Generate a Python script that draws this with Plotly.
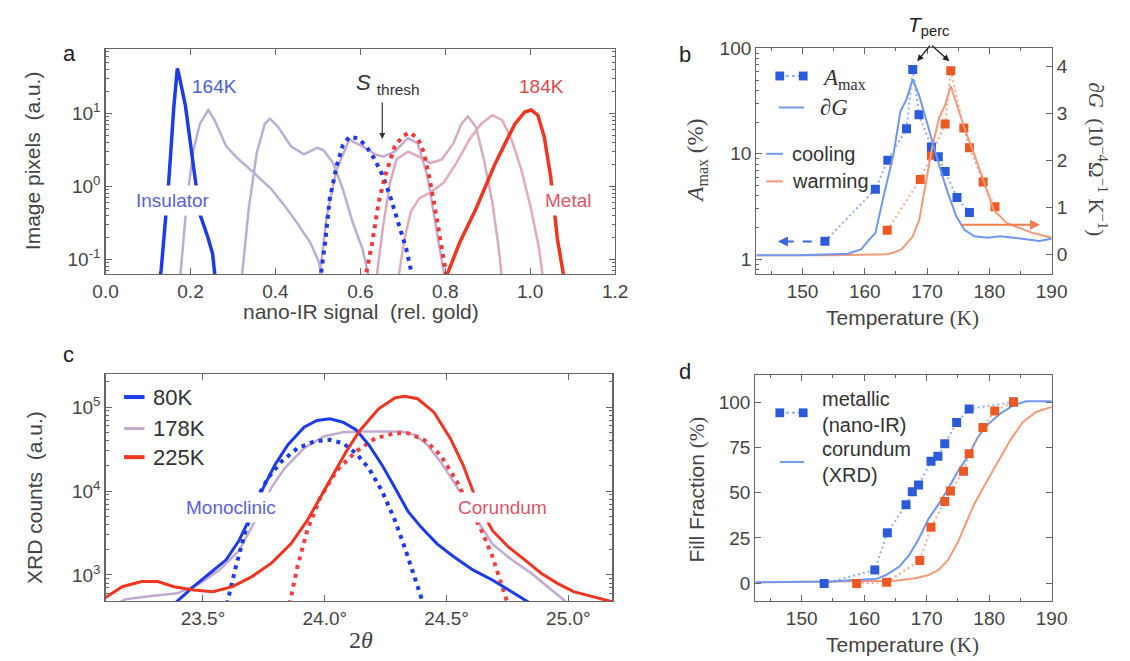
import plotly.graph_objects as go

W, H = 1130, 661
SANS = "Liberation Sans"
SERIF = "Liberation Serif"

# ---------------- Panel a: nano-IR histograms ----------------
a_sig_164K = [0.127, 0.131, 0.149, 0.161, 0.169, 0.174, 0.188, 0.211, 0.222, 0.241, 0.252, 0.259]
a_pix_164K = [0.05, 0.072, 1.2, 12.9, 41.7, 31.6, 12.9, 1.2, 0.42, 0.2, 0.12, 0.05]

a_sig_L1 = [0.175, 0.192, 0.207, 0.222, 0.242, 0.257, 0.284, 0.314, 0.345, 0.391, 0.421, 0.452, 0.482, 0.502, 0.512]
a_pix_L1 = [0.05, 0.68, 3.16, 7.2, 11.2, 8.1, 3.55, 2.34, 1.62, 0.91, 0.55, 0.31, 0.17, 0.093, 0.05]

a_sig_L2 = [0.320, 0.337, 0.356, 0.375, 0.387, 0.406, 0.437, 0.467, 0.498, 0.513, 0.536, 0.559, 0.582, 0.605, 0.622]
a_pix_L2 = [0.05, 0.49, 2.88, 7.2, 8.5, 6.6, 3.55, 2.75, 3.39, 3.16, 2.09, 0.91, 0.32, 0.14, 0.05]

a_sig_M = [0.503, 0.521, 0.544, 0.574, 0.605, 0.635, 0.654, 0.681, 0.712, 0.735, 0.758, 0.780, 0.800]
a_pix_M = [0.05, 0.4, 1.7, 4.4, 3.55, 2.75, 2.57, 3.0, 4.6, 3.9, 1.38, 0.26, 0.05]

a_sig_P1 = [0.637, 0.654, 0.670, 0.685, 0.712, 0.738, 0.765, 0.792, 0.819, 0.838, 0.853, 0.872, 0.891, 0.911, 0.926, 0.934]
a_pix_P1 = [0.05, 0.3, 1.12, 2.34, 3.0, 2.57, 2.09, 2.34, 3.9, 7.2, 9.1, 6.6, 2.34, 0.6, 0.14, 0.05]

a_sig_P2 = [0.688, 0.704, 0.719, 0.738, 0.765, 0.796, 0.826, 0.857, 0.884, 0.911, 0.934, 0.956, 0.979, 1.002, 1.021, 1.031]
a_pix_P2 = [0.05, 0.19, 0.45, 0.68, 0.83, 1.12, 2.09, 4.4, 7.2, 9.5, 8.1, 4.4, 1.7, 0.49, 0.14, 0.05]

a_sig_fit_ins = [0.505, 0.517, 0.528, 0.544, 0.559, 0.574, 0.593, 0.612, 0.632, 0.651, 0.670, 0.689, 0.708, 0.725]
a_pix_fit_ins = [0.05, 0.17, 0.68, 1.9, 3.7, 4.8, 4.6, 3.7, 2.45, 1.48, 0.74, 0.32, 0.14, 0.05]

a_sig_fit_met = [0.610, 0.628, 0.643, 0.658, 0.681, 0.700, 0.716, 0.735, 0.750, 0.765, 0.780, 0.796, 0.805]
a_pix_fit_met = [0.05, 0.17, 0.6, 1.38, 3.55, 4.9, 5.5, 4.6, 2.88, 1.12, 0.36, 0.115, 0.05]

a_sig_184K = [0.798, 0.834, 0.872, 0.895, 0.918, 0.941, 0.964, 0.987, 1.002, 1.018, 1.033, 1.048, 1.064, 1.081]
a_pix_184K = [0.05, 0.17, 0.49, 1.0, 2.09, 3.9, 7.2, 10.5, 11.2, 9.5, 4.8, 1.38, 0.19, 0.05]

a_xticks = [0.0, 0.2, 0.4, 0.6, 0.8, 1.0, 1.2]
a_xticktext = ["0.0", "0.2", "0.4", "0.6", "0.8", "1.0", "1.2"]

# ---------------- Panel b: A_max and dG ----------------
b_cool_T = [153.6, 161.7, 163.7, 166.7, 167.7, 168.7, 170.7, 171.8, 172.9, 174.8, 176.8]
b_cool_A = [1.48, 4.6, 8.7, 17.3, 63, 23.5, 11.6, 9.4, 6.8, 3.85, 2.77]
b_warm_T = [163.6, 168.9, 170.7, 172.9, 173.8, 175.9, 176.8, 179.0, 180.9]
b_warm_A = [1.88, 5.7, 9.7, 19.2, 61.5, 17.6, 11.4, 5.4, 3.15]

b_dG_cool_T = [142.6, 149.5, 157.3, 159.4, 160.7, 161.7, 163.0, 164.6, 165.7, 166.7, 167.7, 168.75,
               169.8, 170.8, 171.9, 173.2, 174.7, 176.0, 177.6, 179.7, 181.8, 183.9, 185.9, 188.0, 190.0]
b_dG_cool = [-0.02, -0.02, 0.01, 0.1, 0.31, 0.45, 1.22, 2.12, 3.03, 3.3, 3.72, 3.37,
             2.89, 2.4, 1.91, 1.36, 0.8, 0.52, 0.38, 0.35, 0.38, 0.35, 0.31, 0.28, 0.33]
b_dG_warm_T = [142.6, 154.7, 163.5, 164.6, 165.9, 167.7, 168.75, 169.8, 170.8, 171.9, 172.9, 173.8,
               175.0, 176.0, 177.6, 179.2, 180.7, 182.8, 184.9, 187.0, 190.0]
b_dG_warm = [-0.02, -0.02, 0.0, 0.03, 0.1, 0.38, 0.73, 1.5, 2.26, 2.89, 3.17, 3.58,
             3.1, 2.68, 2.12, 1.5, 0.94, 0.66, 0.56, 0.45, 0.35]

T_ticks = [150, 160, 170, 180, 190]
T_minor = [145, 155, 165, 175, 185]

# ---------------- Panel c: XRD ----------------
c_2th_80K = [23.38, 23.461, 23.528, 23.595, 23.648, 23.688, 23.748, 23.795, 23.848, 23.915, 23.968, 24.021,
             24.075, 24.128, 24.181, 24.235, 24.288, 24.341, 24.395, 24.461, 24.528, 24.608, 24.688, 24.768, 24.85]
c_cnt_80K = [447, 724, 1047, 1514, 2570, 4467, 10965, 20417, 35481, 57544, 69183, 72444,
             66069, 53703, 35481, 20417, 10965, 5754, 3715, 2344, 1660, 1148, 871, 631, 447]

c_2th_mono = [23.598, 23.635, 23.675, 23.715, 23.768, 23.821, 23.888, 23.955, 24.021, 24.075, 24.128,
              24.181, 24.235, 24.288, 24.328, 24.368, 24.405]
c_cnt_mono = [447, 1259, 3388, 7586, 14454, 22387, 32359, 38905, 40738, 37154, 28184,
              18621, 10000, 4467, 2138, 955, 447]

c_2th_178K = [23.15, 23.181, 23.288, 23.395, 23.488, 23.568, 23.648, 23.715, 23.781, 23.835, 23.915, 23.995,
              24.075, 24.155, 24.235, 24.315, 24.368, 24.421, 24.475, 24.528, 24.58, 24.635, 24.688, 24.768,
              24.848, 24.915, 24.99]
c_cnt_178K = [457, 513, 562, 603, 794, 1148, 1950, 4467, 10965, 18621, 32359, 44668,
              50119, 51286, 51286, 51286, 46774, 35481, 22387, 13183, 7586, 4074, 2344, 1514,
              1047, 724, 479]

c_2th_cor = [23.855, 23.888, 23.928, 23.981, 24.048, 24.128, 24.208, 24.288, 24.341, 24.408, 24.475,
             24.541, 24.595, 24.648, 24.688, 24.721, 24.752]
c_cnt_cor = [447, 1259, 3388, 8318, 17378, 29512, 42658, 48978, 48978, 40738, 26915,
             13183, 6310, 3162, 1660, 871, 447]

c_2th_225K = [23.10, 23.168, 23.248, 23.315, 23.381, 23.461, 23.541, 23.621, 23.701, 23.781, 23.861, 23.928,
              23.981, 24.035, 24.088, 24.141, 24.221, 24.288, 24.328, 24.381, 24.448, 24.515, 24.568, 24.608,
              24.648, 24.688, 24.755, 24.821, 24.888, 24.955, 25.021, 25.088, 25.141, 25.18]
c_cnt_225K = [537, 724, 832, 832, 724, 661, 631, 724, 955, 1380, 2344, 4467,
              8318, 15849, 29512, 51286, 95499, 128825, 134896, 125893, 87096, 42658, 20417, 10000,
              5623, 3388, 2138, 1514, 1047, 794, 631, 562, 513, 479]

c_xticks = [23.5, 24.0, 24.5, 25.0]
c_xticktext = ["23.5°", "24.0°", "24.5°", "25.0°"]

# ---------------- Panel d: fill fraction ----------------
d_cool_T = [153.6, 161.7, 163.7, 166.7, 167.7, 168.7, 170.7, 171.8, 172.9, 174.8, 176.8, 183.9]
d_cool_F = [-0.2, 7.3, 27.8, 43.3, 50.4, 54.2, 67.3, 70, 76.9, 88.7, 96.2, 100]
d_warm_T = [158.8, 163.6, 168.9, 170.7, 172.9, 173.8, 175.9, 176.8, 179.0, 180.9, 183.9]
d_warm_F = [-0.2, 0.5, 12.5, 30.9, 45.1, 50.9, 61.8, 71.5, 86, 95.1, 100]

d_xrd_cool_T = [142.6, 154.7, 162.0, 163.5, 165.6, 167.2, 168.75, 170.3, 171.9, 173.4, 175.0, 176.6,
                178.1, 179.7, 181.8, 183.9, 185.9, 190.0]
d_xrd_cool = [0.5, 0.9, 2.4, 4.5, 9.1, 15.5, 24.5, 35.5, 43.6, 51.8, 61.8, 70,
              80, 87.3, 93.6, 98.2, 100.4, 100.4]
d_xrd_warm_T = [142.6, 165.1, 168.2, 170.3, 171.9, 173.4, 175.0, 176.0, 177.6, 179.2, 181.3, 183.4,
                185.4, 187.5, 190.0]
d_xrd_warm = [0.5, 1.3, 2.7, 4.5, 7.3, 12.7, 22.7, 30.9, 43.6, 53.6, 66.4, 79, 89, 94.5, 97.3]
d_yticks = [0, 25, 50, 75, 100]

# ---------------- styling ----------------
BLUE = "#1c3ce8"
RED = "#f03520"
LAV = "#b9aed6"
SQ_BLUE = "#2b5bdb"
SQ_ORANGE = "#ea5a22"
LN_BLUE = "#7098ee"
LN_ORANGE = "#f49a78"
DOT_BLUE = "rgba(110,150,235,0.75)"
DOT_ORANGE = "rgba(240,140,110,0.75)"
AXC = "#666666"
TXT = "#444444"


def PX(x):
    return x / W


def PY(y):
    return 1 - y / H


fig = go.Figure()


def line(x, y, xa, ya, color, width, dash=None):
    fig.add_trace(go.Scatter(x=x, y=y, xaxis=xa, yaxis=ya, mode="lines",
                             line=dict(color=color, width=width, dash=dash),
                             showlegend=False, hoverinfo="skip"))


def squares(x, y, xa, ya, color, lcolor):
    fig.add_trace(go.Scatter(x=x, y=y, xaxis=xa, yaxis=ya, mode="lines+markers",
                             line=dict(color=lcolor, width=2, dash="2px,3px"),
                             marker=dict(symbol="square", size=9, color=color),
                             showlegend=False, hoverinfo="skip"))


DOTS = "4px,5px"
# panel a
line(a_sig_L1, a_pix_L1, "x", "y", LAV, 2.5)
line(a_sig_L2, a_pix_L2, "x", "y", LAV, 2.5)
line(a_sig_M, a_pix_M, "x", "y", "#c6abd0", 2.5)
line(a_sig_P1, a_pix_P1, "x", "y", "#d8aac2", 2.5)
line(a_sig_P2, a_pix_P2, "x", "y", "#e4abbb", 2.5)
line(a_sig_fit_ins, a_pix_fit_ins, "x", "y", BLUE, 4, DOTS)
line(a_sig_fit_met, a_pix_fit_met, "x", "y", "#f03a3a", 4, DOTS)
line(a_sig_164K, a_pix_164K, "x", "y", BLUE, 3.5)
line(a_sig_184K, a_pix_184K, "x", "y", RED, 3.5)

# panel b
line(b_dG_warm_T, b_dG_warm, "x2", "y3", LN_ORANGE, 2)
line(b_dG_cool_T, b_dG_cool, "x2", "y3", LN_BLUE, 2)
squares(b_warm_T, b_warm_A, "x2", "y2", SQ_ORANGE, DOT_ORANGE)
squares(b_cool_T, b_cool_A, "x2", "y2", SQ_BLUE, DOT_BLUE)

# panel c
line(c_2th_178K, c_cnt_178K, "x3", "y4", "#c2aad2", 2.5)
line(c_2th_mono, c_cnt_mono, "x3", "y4", BLUE, 4, DOTS)
line(c_2th_cor, c_cnt_cor, "x3", "y4", "#f04040", 4, DOTS)
line(c_2th_80K, c_cnt_80K, "x3", "y4", BLUE, 3)
line(c_2th_225K, c_cnt_225K, "x3", "y4", RED, 3)

# panel d
line(d_xrd_warm_T, d_xrd_warm, "x4", "y5", LN_ORANGE, 2)
line(d_xrd_cool_T, d_xrd_cool, "x4", "y5", LN_BLUE, 2)
squares(d_cool_T, d_cool_F, "x4", "y5", SQ_BLUE, DOT_BLUE)
squares(d_warm_T, d_warm_F, "x4", "y5", SQ_ORANGE, DOT_ORANGE)


def ax(**kw):
    d = dict(showline=True, linecolor=AXC, linewidth=1.3, mirror="ticks", ticks="inside",
             ticklen=6, tickwidth=1, tickcolor=AXC, showgrid=False, zeroline=False,
             tickfont=dict(family=SANS, size=19, color=TXT), tickmode="array", fixedrange=True)
    d.update(kw)
    return d


def logminor(decades, extra=()):
    vals = []
    for dec in decades:
        vals += [m * 10 ** dec for m in range(2, 10)]
    return vals + list(extra)


MINOR = dict(ticks="inside", ticklen=3, tickcolor=AXC, showgrid=False)

fig.update_layout(
    width=W, height=H, autosize=False,
    margin=dict(l=0, r=0, t=0, b=0),
    paper_bgcolor="white", plot_bgcolor="white",
    showlegend=False,
    xaxis=ax(domain=[PX(95), PX(618)], range=[0, 1.2], anchor="y",
             tickvals=a_xticks, ticktext=a_xticktext),
    yaxis=ax(domain=[PY(268), PY(40)], type="log", range=[-1.2, 1.88], anchor="x",
             tickvals=[0.1, 1, 10], ticktext=["10<sup>-1</sup>", "10<sup>0</sup>", "10<sup>1</sup>"],
             minor=dict(MINOR, tickmode="array", tickvals=logminor([-2, -1, 0, 1]))),
    xaxis2=ax(domain=[PX(763), PX(1066)], range=[142.6, 190], anchor="y2",
              tickvals=T_ticks, minor=dict(MINOR, tickmode="array", tickvals=T_minor)),
    yaxis2=ax(domain=[PY(268), PY(39)], type="log", range=[-0.14, 2.0], anchor="x2", mirror=False,
              tickvals=[1, 10, 100], ticktext=["1", "10", "100"],
              minor=dict(MINOR, tickmode="array", tickvals=logminor([-1, 0, 1]))),
    yaxis3=ax(overlaying="y2", side="right", anchor="x2", range=[-0.42, 4.38], mirror=False,
              tickvals=[0, 1, 2, 3, 4]),
    xaxis3=ax(domain=[PX(95), PX(615)], range=[23.1, 25.18], anchor="y4",
              tickvals=c_xticks, ticktext=c_xticktext),
    yaxis4=ax(domain=[PY(600), PY(370)], type="log", range=[2.69, 5.39], anchor="x3",
              tickvals=[1e3, 1e4, 1e5], ticktext=["10<sup>3</sup>", "10<sup>4</sup>", "10<sup>5</sup>"],
              minor=dict(MINOR, tickmode="array", tickvals=logminor([2, 3, 4, 5]))),
    xaxis4=ax(domain=[PX(762), PX(1066)], range=[142.6, 190], anchor="y5",
              tickvals=T_ticks, minor=dict(MINOR, tickmode="array", tickvals=T_minor)),
    yaxis5=ax(domain=[PY(600), PY(371)], range=[-9.8, 114.7], anchor="x4",
              tickvals=d_yticks),
)

ann = []
shapes = []


def text(x, y, s, size=19, color=TXT, family=SANS, angle=0, xanchor="center", bg=None, pad=1, align="center"):
    d = dict(x=PX(x), y=PY(y), xref="paper", yref="paper", text=s, showarrow=False,
             font=dict(family=family, size=size, color=color), textangle=angle,
             xanchor=xanchor, yanchor="middle", align=align, borderpad=pad)
    if bg:
        d["bgcolor"] = bg
    ann.append(d)


def arrow(hx, hy, dx, dy, color="#333", width=1.3, head=2, size=1.0):
    ann.append(dict(x=PX(hx), y=PY(hy), xref="paper", yref="paper", text="", showarrow=True,
                    ax=dx, ay=dy, arrowhead=head, arrowsize=size, arrowwidth=width,
                    arrowcolor=color))


def seg(x0, y0, x1, y1, color, width=2, dash=None):
    shapes.append(dict(type="line", xref="paper", yref="paper", x0=PX(x0), y0=PY(y0),
                       x1=PX(x1), y1=PY(y1), line=dict(color=color, width=width, dash=dash)))


def sq(cx, cy, color, s=9):
    shapes.append(dict(type="rect", xref="paper", yref="paper", x0=PX(cx - s / 2), x1=PX(cx + s / 2),
                       y0=PY(cy + s / 2), y1=PY(cy - s / 2), fillcolor=color, line=dict(width=0)))


# panel letters
text(58, 44, "a", size=22, color="#222")
text(690, 45, "b", size=22, color="#222")
text(57, 350, "c", size=22, color="#222")
text(690, 367, "d", size=22, color="#222")

# axis titles
text(357, 306, "nano-IR signal\u00a0 (rel. gold)", size=21)
text(20, 153, "Image pixels\u00a0 (a.u.)", size=21, angle=-90)
text(913, 313, "Temperature <span style='font-family:Liberation Serif'>(K)</span>", size=21)
text(702, 153, "<i>A</i><sub>max</sub> (%)", size=23, family=SERIF, angle=-90)
text(1113, 152, "<i>∂G</i>\u00a0 (10<sup>−4</sup>Ω<sup>−1</sup>\u00a0K<sup>−1</sup>)", size=21,
     family=SERIF, angle=90)
text(357, 640, "2<i>θ</i>", size=24, family=SERIF)
text(22, 495, "XRD counts\u00a0 (a.u.)", size=21, angle=-90)
text(913, 645, "Temperature <span style='font-family:Liberation Serif'>(K)</span>", size=21)
text(702, 487, "Fill Fraction <span style='font-family:Liberation Serif'>(%)</span>", size=21, angle=-90)

# panel a labels
text(207, 78, "164K", color="#4b5ee0")
text(542, 78, "184K", color="#e04848")
text(164, 193, "Insulator", color="#5a62d8", bg="white", pad=4)
text(570, 193, "Metal", color="#d9576a", bg="white", pad=4)
text(385, 75, "<i>S</i> <sub>thresh</sub>", size=22, color="#333")
arrow(379, 131, 0, -38, color="#333", width=1.2, head=2, size=1.0)

# panel b decorations
text(940, 16, "<i>T</i><sub>perc</sub>", size=21, color="#222")
arrow(928, 52, 14, -17, color="#222", width=1.3)
arrow(961, 52, -19, -17, color="#222", width=1.3)
seg(792, 235, 830, 235, "#3a66e0", 2, "dash")
arrow(785, 235, 12, 0, color="#3a66e0", width=2, head=2, size=1.0)
arrow(1054, 218, -80, 0, color="#ee8050", width=2, head=2, size=1.0)

# panel b legend
seg(787, 67, 811, 67, DOT_BLUE, 2, "dot")
sq(787, 67, SQ_BLUE)
sq(811, 67, SQ_BLUE)
text(828, 70, "<i>A</i><sub>max</sub>", size=23, family=SERIF, color="#333", xanchor="left")
seg(786, 99, 812, 99, LN_BLUE, 2)
text(826, 99, "<i>∂G</i>", size=23, family=SERIF, color="#333", xanchor="left")
seg(773, 146, 790, 146, LN_BLUE, 2)
text(797, 146, "cooling", size=20, color="#333", xanchor="left")
seg(773, 174, 790, 174, LN_ORANGE, 2)
text(797, 174, "warming", size=20, color="#333", xanchor="left")

# panel c labels and legend
text(224, 505, "Monoclinic", color="#5a62d8", bg="white", pad=4)
text(502, 505, "Corundum", color="#d9576a", bg="white", pad=4)
seg(114, 393, 135, 393, BLUE, 4)
seg(114, 425, 135, 425, "#c2aad2", 3)
seg(114, 454, 135, 454, RED, 4)
text(142, 393, "80K", size=22, color="#333", xanchor="left")
text(142, 425, "178K", size=22, color="#333", xanchor="left")
text(142, 454, "225K", size=22, color="#333", xanchor="left")

# panel d legend
seg(787, 409, 811, 409, DOT_BLUE, 2, "dot")
sq(787, 409, SQ_BLUE)
sq(811, 409, SQ_BLUE)
text(828, 408, "metallic<br>(nano-IR)", size=20, color="#333", xanchor="left", align="left")
seg(787, 459, 812, 459, LN_BLUE, 2)
text(828, 459, "corundum<br>(XRD)", size=20, color="#333", xanchor="left", align="left")

fig.update_layout(annotations=ann, shapes=shapes)

fig.write_html("out.html", include_plotlyjs=True, full_html=True,
               config={"displayModeBar": False, "staticPlot": True},
               post_script="document.body.style.margin='0';")
